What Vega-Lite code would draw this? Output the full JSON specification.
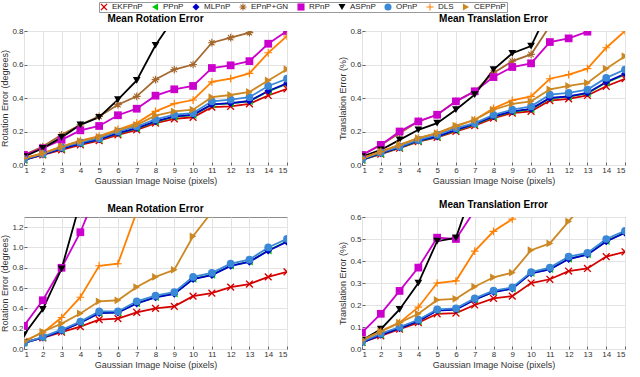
{
"$schema":"https://vega.github.io/schema/vega-lite/v6.json",
"background":"white",
"padding":{"left":0,"top":1,"right":2,"bottom":1},
"config":{"font":"Liberation Sans","view":{"stroke":"#8c8c8c","strokeWidth":1},
"axis":{"domain":false,"gridColor":"#e3e3e3","gridWidth":1,"labelFontSize":8,"labelColor":"#333333","titleFontSize":9,"titleFontWeight":"normal","titleColor":"#333333","tickColor":"#666666","tickSize":-3,"labelPadding":4,"titlePadding":2},
"legend":{"symbolSize":50,"columnPadding":8,"labelOffset":4,"padding":1,"strokeColor":"#9a9a9a","labelFontSize":8,"labelColor":"#222222","symbolStrokeWidth":0},
"title":{"fontSize":10,"fontWeight":"bold","color":"#000000","offset":3}},
"data":{"values":[
{"p":"a","m":"EKFPnP","x":1,"y":0.03},{"p":"a","m":"EKFPnP","x":2,"y":0.06},{"p":"a","m":"EKFPnP","x":3,"y":0.09},{"p":"a","m":"EKFPnP","x":4,"y":0.12},{"p":"a","m":"EKFPnP","x":5,"y":0.145},{"p":"a","m":"EKFPnP","x":6,"y":0.18},{"p":"a","m":"EKFPnP","x":7,"y":0.21},{"p":"a","m":"EKFPnP","x":8,"y":0.25},{"p":"a","m":"EKFPnP","x":9,"y":0.275},{"p":"a","m":"EKFPnP","x":10,"y":0.285},{"p":"a","m":"EKFPnP","x":11,"y":0.345},{"p":"a","m":"EKFPnP","x":12,"y":0.35},{"p":"a","m":"EKFPnP","x":13,"y":0.365},{"p":"a","m":"EKFPnP","x":14,"y":0.415},{"p":"a","m":"EKFPnP","x":15,"y":0.455},
{"p":"a","m":"PPnP","x":1,"y":0.03},{"p":"a","m":"PPnP","x":2,"y":0.063},{"p":"a","m":"PPnP","x":3,"y":0.097},{"p":"a","m":"PPnP","x":4,"y":0.127},{"p":"a","m":"PPnP","x":5,"y":0.152},{"p":"a","m":"PPnP","x":6,"y":0.188},{"p":"a","m":"PPnP","x":7,"y":0.218},{"p":"a","m":"PPnP","x":8,"y":0.258},{"p":"a","m":"PPnP","x":9,"y":0.287},{"p":"a","m":"PPnP","x":10,"y":0.298},{"p":"a","m":"PPnP","x":11,"y":0.36},{"p":"a","m":"PPnP","x":12,"y":0.368},{"p":"a","m":"PPnP","x":13,"y":0.38},{"p":"a","m":"PPnP","x":14,"y":0.44},{"p":"a","m":"PPnP","x":15,"y":0.485},
{"p":"a","m":"MLPnP","x":1,"y":0.03},{"p":"a","m":"MLPnP","x":2,"y":0.062},{"p":"a","m":"MLPnP","x":3,"y":0.098},{"p":"a","m":"MLPnP","x":4,"y":0.128},{"p":"a","m":"MLPnP","x":5,"y":0.153},{"p":"a","m":"MLPnP","x":6,"y":0.19},{"p":"a","m":"MLPnP","x":7,"y":0.22},{"p":"a","m":"MLPnP","x":8,"y":0.26},{"p":"a","m":"MLPnP","x":9,"y":0.29},{"p":"a","m":"MLPnP","x":10,"y":0.3},{"p":"a","m":"MLPnP","x":11,"y":0.362},{"p":"a","m":"MLPnP","x":12,"y":0.37},{"p":"a","m":"MLPnP","x":13,"y":0.382},{"p":"a","m":"MLPnP","x":14,"y":0.442},{"p":"a","m":"MLPnP","x":15,"y":0.488},
{"p":"a","m":"EPnP+GN","x":1,"y":0.06},{"p":"a","m":"EPnP+GN","x":2,"y":0.11},{"p":"a","m":"EPnP+GN","x":3,"y":0.18},{"p":"a","m":"EPnP+GN","x":4,"y":0.24},{"p":"a","m":"EPnP+GN","x":5,"y":0.29},{"p":"a","m":"EPnP+GN","x":6,"y":0.36},{"p":"a","m":"EPnP+GN","x":7,"y":0.41},{"p":"a","m":"EPnP+GN","x":8,"y":0.51},{"p":"a","m":"EPnP+GN","x":9,"y":0.57},{"p":"a","m":"EPnP+GN","x":10,"y":0.6},{"p":"a","m":"EPnP+GN","x":11,"y":0.73},{"p":"a","m":"EPnP+GN","x":12,"y":0.76},{"p":"a","m":"EPnP+GN","x":13,"y":0.79},{"p":"a","m":"EPnP+GN","x":14,"y":0.88},{"p":"a","m":"EPnP+GN","x":15,"y":0.95},
{"p":"a","m":"RPnP","x":1,"y":0.06},{"p":"a","m":"RPnP","x":2,"y":0.1},{"p":"a","m":"RPnP","x":3,"y":0.15},{"p":"a","m":"RPnP","x":4,"y":0.207},{"p":"a","m":"RPnP","x":5,"y":0.233},{"p":"a","m":"RPnP","x":6,"y":0.297},{"p":"a","m":"RPnP","x":7,"y":0.336},{"p":"a","m":"RPnP","x":8,"y":0.414},{"p":"a","m":"RPnP","x":9,"y":0.452},{"p":"a","m":"RPnP","x":10,"y":0.472},{"p":"a","m":"RPnP","x":11,"y":0.579},{"p":"a","m":"RPnP","x":12,"y":0.595},{"p":"a","m":"RPnP","x":13,"y":0.62},{"p":"a","m":"RPnP","x":14,"y":0.724},{"p":"a","m":"RPnP","x":15,"y":0.8},
{"p":"a","m":"ASPnP","x":1,"y":0.05},{"p":"a","m":"ASPnP","x":2,"y":0.1},{"p":"a","m":"ASPnP","x":3,"y":0.165},{"p":"a","m":"ASPnP","x":4,"y":0.24},{"p":"a","m":"ASPnP","x":5,"y":0.285},{"p":"a","m":"ASPnP","x":6,"y":0.39},{"p":"a","m":"ASPnP","x":7,"y":0.505},{"p":"a","m":"ASPnP","x":8,"y":0.715},{"p":"a","m":"ASPnP","x":9,"y":0.88},{"p":"a","m":"ASPnP","x":10,"y":1.0},{"p":"a","m":"ASPnP","x":11,"y":1.1},{"p":"a","m":"ASPnP","x":12,"y":1.2},{"p":"a","m":"ASPnP","x":13,"y":1.3},{"p":"a","m":"ASPnP","x":14,"y":1.4},{"p":"a","m":"ASPnP","x":15,"y":1.5},
{"p":"a","m":"OPnP","x":1,"y":0.035},{"p":"a","m":"OPnP","x":2,"y":0.067},{"p":"a","m":"OPnP","x":3,"y":0.105},{"p":"a","m":"OPnP","x":4,"y":0.135},{"p":"a","m":"OPnP","x":5,"y":0.16},{"p":"a","m":"OPnP","x":6,"y":0.2},{"p":"a","m":"OPnP","x":7,"y":0.23},{"p":"a","m":"OPnP","x":8,"y":0.272},{"p":"a","m":"OPnP","x":9,"y":0.3},{"p":"a","m":"OPnP","x":10,"y":0.31},{"p":"a","m":"OPnP","x":11,"y":0.38},{"p":"a","m":"OPnP","x":12,"y":0.39},{"p":"a","m":"OPnP","x":13,"y":0.405},{"p":"a","m":"OPnP","x":14,"y":0.472},{"p":"a","m":"OPnP","x":15,"y":0.515},
{"p":"a","m":"DLS","x":1,"y":0.04},{"p":"a","m":"DLS","x":2,"y":0.07},{"p":"a","m":"DLS","x":3,"y":0.11},{"p":"a","m":"DLS","x":4,"y":0.145},{"p":"a","m":"DLS","x":5,"y":0.172},{"p":"a","m":"DLS","x":6,"y":0.212},{"p":"a","m":"DLS","x":7,"y":0.25},{"p":"a","m":"DLS","x":8,"y":0.32},{"p":"a","m":"DLS","x":9,"y":0.366},{"p":"a","m":"DLS","x":10,"y":0.388},{"p":"a","m":"DLS","x":11,"y":0.496},{"p":"a","m":"DLS","x":12,"y":0.515},{"p":"a","m":"DLS","x":13,"y":0.547},{"p":"a","m":"DLS","x":14,"y":0.67},{"p":"a","m":"DLS","x":15,"y":0.77},
{"p":"a","m":"CEPPnP","x":1,"y":0.04},{"p":"a","m":"CEPPnP","x":2,"y":0.07},{"p":"a","m":"CEPPnP","x":3,"y":0.11},{"p":"a","m":"CEPPnP","x":4,"y":0.142},{"p":"a","m":"CEPPnP","x":5,"y":0.168},{"p":"a","m":"CEPPnP","x":6,"y":0.208},{"p":"a","m":"CEPPnP","x":7,"y":0.24},{"p":"a","m":"CEPPnP","x":8,"y":0.295},{"p":"a","m":"CEPPnP","x":9,"y":0.32},{"p":"a","m":"CEPPnP","x":10,"y":0.33},{"p":"a","m":"CEPPnP","x":11,"y":0.405},{"p":"a","m":"CEPPnP","x":12,"y":0.418},{"p":"a","m":"CEPPnP","x":13,"y":0.436},{"p":"a","m":"CEPPnP","x":14,"y":0.505},{"p":"a","m":"CEPPnP","x":15,"y":0.572},
{"p":"b","m":"EKFPnP","x":1,"y":0.03},{"p":"b","m":"EKFPnP","x":2,"y":0.065},{"p":"b","m":"EKFPnP","x":3,"y":0.1},{"p":"b","m":"EKFPnP","x":4,"y":0.14},{"p":"b","m":"EKFPnP","x":5,"y":0.165},{"p":"b","m":"EKFPnP","x":6,"y":0.2},{"p":"b","m":"EKFPnP","x":7,"y":0.235},{"p":"b","m":"EKFPnP","x":8,"y":0.28},{"p":"b","m":"EKFPnP","x":9,"y":0.31},{"p":"b","m":"EKFPnP","x":10,"y":0.32},{"p":"b","m":"EKFPnP","x":11,"y":0.385},{"p":"b","m":"EKFPnP","x":12,"y":0.395},{"p":"b","m":"EKFPnP","x":13,"y":0.415},{"p":"b","m":"EKFPnP","x":14,"y":0.47},{"p":"b","m":"EKFPnP","x":15,"y":0.515},
{"p":"b","m":"PPnP","x":1,"y":0.03},{"p":"b","m":"PPnP","x":2,"y":0.068},{"p":"b","m":"PPnP","x":3,"y":0.103},{"p":"b","m":"PPnP","x":4,"y":0.143},{"p":"b","m":"PPnP","x":5,"y":0.168},{"p":"b","m":"PPnP","x":6,"y":0.207},{"p":"b","m":"PPnP","x":7,"y":0.242},{"p":"b","m":"PPnP","x":8,"y":0.287},{"p":"b","m":"PPnP","x":9,"y":0.318},{"p":"b","m":"PPnP","x":10,"y":0.332},{"p":"b","m":"PPnP","x":11,"y":0.398},{"p":"b","m":"PPnP","x":12,"y":0.408},{"p":"b","m":"PPnP","x":13,"y":0.428},{"p":"b","m":"PPnP","x":14,"y":0.492},{"p":"b","m":"PPnP","x":15,"y":0.54},
{"p":"b","m":"MLPnP","x":1,"y":0.03},{"p":"b","m":"MLPnP","x":2,"y":0.07},{"p":"b","m":"MLPnP","x":3,"y":0.105},{"p":"b","m":"MLPnP","x":4,"y":0.145},{"p":"b","m":"MLPnP","x":5,"y":0.17},{"p":"b","m":"MLPnP","x":6,"y":0.21},{"p":"b","m":"MLPnP","x":7,"y":0.245},{"p":"b","m":"MLPnP","x":8,"y":0.29},{"p":"b","m":"MLPnP","x":9,"y":0.32},{"p":"b","m":"MLPnP","x":10,"y":0.335},{"p":"b","m":"MLPnP","x":11,"y":0.4},{"p":"b","m":"MLPnP","x":12,"y":0.41},{"p":"b","m":"MLPnP","x":13,"y":0.43},{"p":"b","m":"MLPnP","x":14,"y":0.495},{"p":"b","m":"MLPnP","x":15,"y":0.545},
{"p":"b","m":"EPnP+GN","x":1,"y":0.06},{"p":"b","m":"EPnP+GN","x":2,"y":0.12},{"p":"b","m":"EPnP+GN","x":3,"y":0.19},{"p":"b","m":"EPnP+GN","x":4,"y":0.26},{"p":"b","m":"EPnP+GN","x":5,"y":0.3},{"p":"b","m":"EPnP+GN","x":6,"y":0.38},{"p":"b","m":"EPnP+GN","x":7,"y":0.44},{"p":"b","m":"EPnP+GN","x":8,"y":0.55},{"p":"b","m":"EPnP+GN","x":9,"y":0.62},{"p":"b","m":"EPnP+GN","x":10,"y":0.66},{"p":"b","m":"EPnP+GN","x":11,"y":0.83},{"p":"b","m":"EPnP+GN","x":12,"y":0.9},{"p":"b","m":"EPnP+GN","x":13,"y":0.95},{"p":"b","m":"EPnP+GN","x":14,"y":1.0},{"p":"b","m":"EPnP+GN","x":15,"y":1.05},
{"p":"b","m":"RPnP","x":1,"y":0.06},{"p":"b","m":"RPnP","x":2,"y":0.12},{"p":"b","m":"RPnP","x":3,"y":0.2},{"p":"b","m":"RPnP","x":4,"y":0.26},{"p":"b","m":"RPnP","x":5,"y":0.3},{"p":"b","m":"RPnP","x":6,"y":0.38},{"p":"b","m":"RPnP","x":7,"y":0.44},{"p":"b","m":"RPnP","x":8,"y":0.525},{"p":"b","m":"RPnP","x":9,"y":0.585},{"p":"b","m":"RPnP","x":10,"y":0.607},{"p":"b","m":"RPnP","x":11,"y":0.734},{"p":"b","m":"RPnP","x":12,"y":0.756},{"p":"b","m":"RPnP","x":13,"y":0.796},{"p":"b","m":"RPnP","x":14,"y":0.9},{"p":"b","m":"RPnP","x":15,"y":0.95},
{"p":"b","m":"ASPnP","x":1,"y":0.05},{"p":"b","m":"ASPnP","x":2,"y":0.09},{"p":"b","m":"ASPnP","x":3,"y":0.15},{"p":"b","m":"ASPnP","x":4,"y":0.21},{"p":"b","m":"ASPnP","x":5,"y":0.25},{"p":"b","m":"ASPnP","x":6,"y":0.33},{"p":"b","m":"ASPnP","x":7,"y":0.42},{"p":"b","m":"ASPnP","x":8,"y":0.57},{"p":"b","m":"ASPnP","x":9,"y":0.667},{"p":"b","m":"ASPnP","x":10,"y":0.71},{"p":"b","m":"ASPnP","x":11,"y":0.94},{"p":"b","m":"ASPnP","x":12,"y":1.0},{"p":"b","m":"ASPnP","x":13,"y":1.05},{"p":"b","m":"ASPnP","x":14,"y":1.1},{"p":"b","m":"ASPnP","x":15,"y":1.15},
{"p":"b","m":"OPnP","x":1,"y":0.035},{"p":"b","m":"OPnP","x":2,"y":0.075},{"p":"b","m":"OPnP","x":3,"y":0.11},{"p":"b","m":"OPnP","x":4,"y":0.15},{"p":"b","m":"OPnP","x":5,"y":0.18},{"p":"b","m":"OPnP","x":6,"y":0.22},{"p":"b","m":"OPnP","x":7,"y":0.25},{"p":"b","m":"OPnP","x":8,"y":0.3},{"p":"b","m":"OPnP","x":9,"y":0.33},{"p":"b","m":"OPnP","x":10,"y":0.35},{"p":"b","m":"OPnP","x":11,"y":0.42},{"p":"b","m":"OPnP","x":12,"y":0.43},{"p":"b","m":"OPnP","x":13,"y":0.45},{"p":"b","m":"OPnP","x":14,"y":0.52},{"p":"b","m":"OPnP","x":15,"y":0.57},
{"p":"b","m":"DLS","x":1,"y":0.04},{"p":"b","m":"DLS","x":2,"y":0.08},{"p":"b","m":"DLS","x":3,"y":0.12},{"p":"b","m":"DLS","x":4,"y":0.16},{"p":"b","m":"DLS","x":5,"y":0.19},{"p":"b","m":"DLS","x":6,"y":0.23},{"p":"b","m":"DLS","x":7,"y":0.27},{"p":"b","m":"DLS","x":8,"y":0.338},{"p":"b","m":"DLS","x":9,"y":0.386},{"p":"b","m":"DLS","x":10,"y":0.41},{"p":"b","m":"DLS","x":11,"y":0.515},{"p":"b","m":"DLS","x":12,"y":0.54},{"p":"b","m":"DLS","x":13,"y":0.575},{"p":"b","m":"DLS","x":14,"y":0.7},{"p":"b","m":"DLS","x":15,"y":0.8},
{"p":"b","m":"CEPPnP","x":1,"y":0.04},{"p":"b","m":"CEPPnP","x":2,"y":0.08},{"p":"b","m":"CEPPnP","x":3,"y":0.12},{"p":"b","m":"CEPPnP","x":4,"y":0.16},{"p":"b","m":"CEPPnP","x":5,"y":0.19},{"p":"b","m":"CEPPnP","x":6,"y":0.235},{"p":"b","m":"CEPPnP","x":7,"y":0.27},{"p":"b","m":"CEPPnP","x":8,"y":0.33},{"p":"b","m":"CEPPnP","x":9,"y":0.365},{"p":"b","m":"CEPPnP","x":10,"y":0.38},{"p":"b","m":"CEPPnP","x":11,"y":0.452},{"p":"b","m":"CEPPnP","x":12,"y":0.472},{"p":"b","m":"CEPPnP","x":13,"y":0.49},{"p":"b","m":"CEPPnP","x":14,"y":0.575},{"p":"b","m":"CEPPnP","x":15,"y":0.65},
{"p":"c","m":"EKFPnP","x":1,"y":0.07},{"p":"c","m":"EKFPnP","x":2,"y":0.11},{"p":"c","m":"EKFPnP","x":3,"y":0.166},{"p":"c","m":"EKFPnP","x":4,"y":0.22},{"p":"c","m":"EKFPnP","x":5,"y":0.29},{"p":"c","m":"EKFPnP","x":6,"y":0.3},{"p":"c","m":"EKFPnP","x":7,"y":0.36},{"p":"c","m":"EKFPnP","x":8,"y":0.4},{"p":"c","m":"EKFPnP","x":9,"y":0.42},{"p":"c","m":"EKFPnP","x":10,"y":0.52},{"p":"c","m":"EKFPnP","x":11,"y":0.55},{"p":"c","m":"EKFPnP","x":12,"y":0.61},{"p":"c","m":"EKFPnP","x":13,"y":0.64},{"p":"c","m":"EKFPnP","x":14,"y":0.71},{"p":"c","m":"EKFPnP","x":15,"y":0.76},
{"p":"c","m":"PPnP","x":1,"y":0.06},{"p":"c","m":"PPnP","x":2,"y":0.115},{"p":"c","m":"PPnP","x":3,"y":0.18},{"p":"c","m":"PPnP","x":4,"y":0.26},{"p":"c","m":"PPnP","x":5,"y":0.355},{"p":"c","m":"PPnP","x":6,"y":0.36},{"p":"c","m":"PPnP","x":7,"y":0.45},{"p":"c","m":"PPnP","x":8,"y":0.51},{"p":"c","m":"PPnP","x":9,"y":0.545},{"p":"c","m":"PPnP","x":10,"y":0.69},{"p":"c","m":"PPnP","x":11,"y":0.73},{"p":"c","m":"PPnP","x":12,"y":0.82},{"p":"c","m":"PPnP","x":13,"y":0.86},{"p":"c","m":"PPnP","x":14,"y":0.97},{"p":"c","m":"PPnP","x":15,"y":1.06},
{"p":"c","m":"MLPnP","x":1,"y":0.058},{"p":"c","m":"MLPnP","x":2,"y":0.113},{"p":"c","m":"MLPnP","x":3,"y":0.178},{"p":"c","m":"MLPnP","x":4,"y":0.258},{"p":"c","m":"MLPnP","x":5,"y":0.353},{"p":"c","m":"MLPnP","x":6,"y":0.358},{"p":"c","m":"MLPnP","x":7,"y":0.448},{"p":"c","m":"MLPnP","x":8,"y":0.508},{"p":"c","m":"MLPnP","x":9,"y":0.543},{"p":"c","m":"MLPnP","x":10,"y":0.688},{"p":"c","m":"MLPnP","x":11,"y":0.728},{"p":"c","m":"MLPnP","x":12,"y":0.818},{"p":"c","m":"MLPnP","x":13,"y":0.858},{"p":"c","m":"MLPnP","x":14,"y":0.968},{"p":"c","m":"MLPnP","x":15,"y":1.055},
{"p":"c","m":"EPnP+GN","x":1,"y":2.0},{"p":"c","m":"EPnP+GN","x":2,"y":2.2},{"p":"c","m":"EPnP+GN","x":3,"y":2.4},{"p":"c","m":"EPnP+GN","x":4,"y":2.6},{"p":"c","m":"EPnP+GN","x":5,"y":2.8},{"p":"c","m":"EPnP+GN","x":6,"y":3.0},{"p":"c","m":"EPnP+GN","x":7,"y":3.2},{"p":"c","m":"EPnP+GN","x":8,"y":3.4},{"p":"c","m":"EPnP+GN","x":9,"y":3.6},{"p":"c","m":"EPnP+GN","x":10,"y":3.8},{"p":"c","m":"EPnP+GN","x":11,"y":4.0},{"p":"c","m":"EPnP+GN","x":12,"y":4.2},{"p":"c","m":"EPnP+GN","x":13,"y":4.4},{"p":"c","m":"EPnP+GN","x":14,"y":4.6},{"p":"c","m":"EPnP+GN","x":15,"y":4.8},
{"p":"c","m":"RPnP","x":1,"y":0.228},{"p":"c","m":"RPnP","x":2,"y":0.48},{"p":"c","m":"RPnP","x":3,"y":0.8},{"p":"c","m":"RPnP","x":4,"y":1.15},{"p":"c","m":"RPnP","x":5,"y":1.6},{"p":"c","m":"RPnP","x":6,"y":2.0},{"p":"c","m":"RPnP","x":7,"y":2.4},{"p":"c","m":"RPnP","x":8,"y":2.8},{"p":"c","m":"RPnP","x":9,"y":3.2},{"p":"c","m":"RPnP","x":10,"y":3.6},{"p":"c","m":"RPnP","x":11,"y":4.0},{"p":"c","m":"RPnP","x":12,"y":4.4},{"p":"c","m":"RPnP","x":13,"y":4.8},{"p":"c","m":"RPnP","x":14,"y":5.2},{"p":"c","m":"RPnP","x":15,"y":5.6},
{"p":"c","m":"ASPnP","x":1,"y":0.14},{"p":"c","m":"ASPnP","x":2,"y":0.39},{"p":"c","m":"ASPnP","x":3,"y":0.79},{"p":"c","m":"ASPnP","x":4,"y":1.45},{"p":"c","m":"ASPnP","x":5,"y":2.0},{"p":"c","m":"ASPnP","x":6,"y":2.5},{"p":"c","m":"ASPnP","x":7,"y":3.0},{"p":"c","m":"ASPnP","x":8,"y":3.5},{"p":"c","m":"ASPnP","x":9,"y":4.0},{"p":"c","m":"ASPnP","x":10,"y":4.5},{"p":"c","m":"ASPnP","x":11,"y":5.0},{"p":"c","m":"ASPnP","x":12,"y":5.5},{"p":"c","m":"ASPnP","x":13,"y":6.0},{"p":"c","m":"ASPnP","x":14,"y":6.5},{"p":"c","m":"ASPnP","x":15,"y":7.0},
{"p":"c","m":"OPnP","x":1,"y":0.06},{"p":"c","m":"OPnP","x":2,"y":0.12},{"p":"c","m":"OPnP","x":3,"y":0.19},{"p":"c","m":"OPnP","x":4,"y":0.27},{"p":"c","m":"OPnP","x":5,"y":0.37},{"p":"c","m":"OPnP","x":6,"y":0.37},{"p":"c","m":"OPnP","x":7,"y":0.47},{"p":"c","m":"OPnP","x":8,"y":0.525},{"p":"c","m":"OPnP","x":9,"y":0.56},{"p":"c","m":"OPnP","x":10,"y":0.71},{"p":"c","m":"OPnP","x":11,"y":0.75},{"p":"c","m":"OPnP","x":12,"y":0.84},{"p":"c","m":"OPnP","x":13,"y":0.88},{"p":"c","m":"OPnP","x":14,"y":1.0},{"p":"c","m":"OPnP","x":15,"y":1.085},
{"p":"c","m":"DLS","x":1,"y":0.08},{"p":"c","m":"DLS","x":2,"y":0.16},{"p":"c","m":"DLS","x":3,"y":0.31},{"p":"c","m":"DLS","x":4,"y":0.51},{"p":"c","m":"DLS","x":5,"y":0.82},{"p":"c","m":"DLS","x":6,"y":0.84},{"p":"c","m":"DLS","x":7,"y":1.35},{"p":"c","m":"DLS","x":8,"y":1.7},{"p":"c","m":"DLS","x":9,"y":2.0},{"p":"c","m":"DLS","x":10,"y":2.3},{"p":"c","m":"DLS","x":11,"y":2.6},{"p":"c","m":"DLS","x":12,"y":2.9},{"p":"c","m":"DLS","x":13,"y":3.2},{"p":"c","m":"DLS","x":14,"y":3.5},{"p":"c","m":"DLS","x":15,"y":3.8},
{"p":"c","m":"CEPPnP","x":1,"y":0.07},{"p":"c","m":"CEPPnP","x":2,"y":0.17},{"p":"c","m":"CEPPnP","x":3,"y":0.25},{"p":"c","m":"CEPPnP","x":4,"y":0.35},{"p":"c","m":"CEPPnP","x":5,"y":0.47},{"p":"c","m":"CEPPnP","x":6,"y":0.48},{"p":"c","m":"CEPPnP","x":7,"y":0.61},{"p":"c","m":"CEPPnP","x":8,"y":0.71},{"p":"c","m":"CEPPnP","x":9,"y":0.78},{"p":"c","m":"CEPPnP","x":10,"y":1.11},{"p":"c","m":"CEPPnP","x":11,"y":1.35},{"p":"c","m":"CEPPnP","x":12,"y":1.6},{"p":"c","m":"CEPPnP","x":13,"y":1.8},{"p":"c","m":"CEPPnP","x":14,"y":2.0},{"p":"c","m":"CEPPnP","x":15,"y":2.2},
{"p":"d","m":"EKFPnP","x":1,"y":0.03},{"p":"d","m":"EKFPnP","x":2,"y":0.06},{"p":"d","m":"EKFPnP","x":3,"y":0.09},{"p":"d","m":"EKFPnP","x":4,"y":0.12},{"p":"d","m":"EKFPnP","x":5,"y":0.16},{"p":"d","m":"EKFPnP","x":6,"y":0.163},{"p":"d","m":"EKFPnP","x":7,"y":0.2},{"p":"d","m":"EKFPnP","x":8,"y":0.23},{"p":"d","m":"EKFPnP","x":9,"y":0.24},{"p":"d","m":"EKFPnP","x":10,"y":0.3},{"p":"d","m":"EKFPnP","x":11,"y":0.317},{"p":"d","m":"EKFPnP","x":12,"y":0.354},{"p":"d","m":"EKFPnP","x":13,"y":0.366},{"p":"d","m":"EKFPnP","x":14,"y":0.42},{"p":"d","m":"EKFPnP","x":15,"y":0.442},
{"p":"d","m":"PPnP","x":1,"y":0.03},{"p":"d","m":"PPnP","x":2,"y":0.065},{"p":"d","m":"PPnP","x":3,"y":0.095},{"p":"d","m":"PPnP","x":4,"y":0.127},{"p":"d","m":"PPnP","x":5,"y":0.176},{"p":"d","m":"PPnP","x":6,"y":0.18},{"p":"d","m":"PPnP","x":7,"y":0.225},{"p":"d","m":"PPnP","x":8,"y":0.26},{"p":"d","m":"PPnP","x":9,"y":0.275},{"p":"d","m":"PPnP","x":10,"y":0.345},{"p":"d","m":"PPnP","x":11,"y":0.363},{"p":"d","m":"PPnP","x":12,"y":0.41},{"p":"d","m":"PPnP","x":13,"y":0.43},{"p":"d","m":"PPnP","x":14,"y":0.49},{"p":"d","m":"PPnP","x":15,"y":0.53},
{"p":"d","m":"MLPnP","x":1,"y":0.029},{"p":"d","m":"MLPnP","x":2,"y":0.064},{"p":"d","m":"MLPnP","x":3,"y":0.094},{"p":"d","m":"MLPnP","x":4,"y":0.126},{"p":"d","m":"MLPnP","x":5,"y":0.175},{"p":"d","m":"MLPnP","x":6,"y":0.179},{"p":"d","m":"MLPnP","x":7,"y":0.224},{"p":"d","m":"MLPnP","x":8,"y":0.259},{"p":"d","m":"MLPnP","x":9,"y":0.274},{"p":"d","m":"MLPnP","x":10,"y":0.344},{"p":"d","m":"MLPnP","x":11,"y":0.362},{"p":"d","m":"MLPnP","x":12,"y":0.409},{"p":"d","m":"MLPnP","x":13,"y":0.429},{"p":"d","m":"MLPnP","x":14,"y":0.489},{"p":"d","m":"MLPnP","x":15,"y":0.528},
{"p":"d","m":"EPnP+GN","x":1,"y":1.0},{"p":"d","m":"EPnP+GN","x":2,"y":1.1},{"p":"d","m":"EPnP+GN","x":3,"y":1.2},{"p":"d","m":"EPnP+GN","x":4,"y":1.3},{"p":"d","m":"EPnP+GN","x":5,"y":1.4},{"p":"d","m":"EPnP+GN","x":6,"y":1.5},{"p":"d","m":"EPnP+GN","x":7,"y":1.6},{"p":"d","m":"EPnP+GN","x":8,"y":1.7},{"p":"d","m":"EPnP+GN","x":9,"y":1.8},{"p":"d","m":"EPnP+GN","x":10,"y":1.9},{"p":"d","m":"EPnP+GN","x":11,"y":2.0},{"p":"d","m":"EPnP+GN","x":12,"y":2.1},{"p":"d","m":"EPnP+GN","x":13,"y":2.2},{"p":"d","m":"EPnP+GN","x":14,"y":2.3},{"p":"d","m":"EPnP+GN","x":15,"y":2.4},
{"p":"d","m":"RPnP","x":1,"y":0.075},{"p":"d","m":"RPnP","x":2,"y":0.16},{"p":"d","m":"RPnP","x":3,"y":0.264},{"p":"d","m":"RPnP","x":4,"y":0.37},{"p":"d","m":"RPnP","x":5,"y":0.506},{"p":"d","m":"RPnP","x":6,"y":0.5},{"p":"d","m":"RPnP","x":7,"y":0.63},{"p":"d","m":"RPnP","x":8,"y":0.8},{"p":"d","m":"RPnP","x":9,"y":0.95},{"p":"d","m":"RPnP","x":10,"y":1.1},{"p":"d","m":"RPnP","x":11,"y":1.25},{"p":"d","m":"RPnP","x":12,"y":1.4},{"p":"d","m":"RPnP","x":13,"y":1.55},{"p":"d","m":"RPnP","x":14,"y":1.7},{"p":"d","m":"RPnP","x":15,"y":1.85},
{"p":"d","m":"ASPnP","x":1,"y":0.04},{"p":"d","m":"ASPnP","x":2,"y":0.09},{"p":"d","m":"ASPnP","x":3,"y":0.18},{"p":"d","m":"ASPnP","x":4,"y":0.3},{"p":"d","m":"ASPnP","x":5,"y":0.49},{"p":"d","m":"ASPnP","x":6,"y":0.505},{"p":"d","m":"ASPnP","x":7,"y":0.75},{"p":"d","m":"ASPnP","x":8,"y":0.9},{"p":"d","m":"ASPnP","x":9,"y":1.05},{"p":"d","m":"ASPnP","x":10,"y":1.2},{"p":"d","m":"ASPnP","x":11,"y":1.35},{"p":"d","m":"ASPnP","x":12,"y":1.5},{"p":"d","m":"ASPnP","x":13,"y":1.65},{"p":"d","m":"ASPnP","x":14,"y":1.8},{"p":"d","m":"ASPnP","x":15,"y":1.95},
{"p":"d","m":"OPnP","x":1,"y":0.033},{"p":"d","m":"OPnP","x":2,"y":0.07},{"p":"d","m":"OPnP","x":3,"y":0.1},{"p":"d","m":"OPnP","x":4,"y":0.133},{"p":"d","m":"OPnP","x":5,"y":0.18},{"p":"d","m":"OPnP","x":6,"y":0.185},{"p":"d","m":"OPnP","x":7,"y":0.23},{"p":"d","m":"OPnP","x":8,"y":0.265},{"p":"d","m":"OPnP","x":9,"y":0.28},{"p":"d","m":"OPnP","x":10,"y":0.35},{"p":"d","m":"OPnP","x":11,"y":0.37},{"p":"d","m":"OPnP","x":12,"y":0.42},{"p":"d","m":"OPnP","x":13,"y":0.437},{"p":"d","m":"OPnP","x":14,"y":0.5},{"p":"d","m":"OPnP","x":15,"y":0.537},
{"p":"d","m":"DLS","x":1,"y":0.04},{"p":"d","m":"DLS","x":2,"y":0.08},{"p":"d","m":"DLS","x":3,"y":0.12},{"p":"d","m":"DLS","x":4,"y":0.19},{"p":"d","m":"DLS","x":5,"y":0.3},{"p":"d","m":"DLS","x":6,"y":0.31},{"p":"d","m":"DLS","x":7,"y":0.445},{"p":"d","m":"DLS","x":8,"y":0.535},{"p":"d","m":"DLS","x":9,"y":0.59},{"p":"d","m":"DLS","x":10,"y":0.9},{"p":"d","m":"DLS","x":11,"y":1.0},{"p":"d","m":"DLS","x":12,"y":1.1},{"p":"d","m":"DLS","x":13,"y":1.2},{"p":"d","m":"DLS","x":14,"y":1.3},{"p":"d","m":"DLS","x":15,"y":1.4},
{"p":"d","m":"CEPPnP","x":1,"y":0.04},{"p":"d","m":"CEPPnP","x":2,"y":0.08},{"p":"d","m":"CEPPnP","x":3,"y":0.12},{"p":"d","m":"CEPPnP","x":4,"y":0.16},{"p":"d","m":"CEPPnP","x":5,"y":0.223},{"p":"d","m":"CEPPnP","x":6,"y":0.228},{"p":"d","m":"CEPPnP","x":7,"y":0.283},{"p":"d","m":"CEPPnP","x":8,"y":0.326},{"p":"d","m":"CEPPnP","x":9,"y":0.347},{"p":"d","m":"CEPPnP","x":10,"y":0.449},{"p":"d","m":"CEPPnP","x":11,"y":0.48},{"p":"d","m":"CEPPnP","x":12,"y":0.58},{"p":"d","m":"CEPPnP","x":13,"y":0.68},{"p":"d","m":"CEPPnP","x":14,"y":0.8},{"p":"d","m":"CEPPnP","x":15,"y":0.9}
]},
"spacing":13,
"vconcat":[
{"hconcat":[
{"width":263,"height":134,"title":"Mean Rotation Error","transform":[{"filter":{"field":"p","equal":"a"}}],
"encoding":{
"x":{"field":"x","type":"quantitative","scale":{"domain":[1,15],"nice":false},"axis":{"values":[1,2,3,4,5,6,7,8,9,10,11,12,13,14,15],"format":"d","title":"Gaussian Image Noise (pixels)"}},
"y":{"field":"y","type":"quantitative","scale":{"domain":[0,0.8],"nice":false},"axis":{"values":[0,0.2,0.4,0.6,0.8],"title":"Rotation Error (degrees)"}},
"color":{"field":"m","type":"nominal","scale":{"domain":["EKFPnP","PPnP","MLPnP","EPnP+GN","RPnP","ASPnP","OPnP","DLS","CEPPnP"],"range":["#d40000","#00c800","#0000cc","#a5692f","#cc00cc","#000000","#3a88d8","#ff8000","#cc8822"]},
"legend":{"title":null,"orient":"none","legendX":75,"legendY":-29,"direction":"horizontal","columns":9,"strokeColor":"#9a9a9a","fillColor":"white","padding":1,"labelFontSize":8,"labelColor":"#222222","symbolSize":50,"columnPadding":8,"labelOffset":4,"rowPadding":0,"symbolStrokeWidth":0}}},
"layer":[
{"mark":{"type":"line","strokeWidth":1.8,"clip":true}},
{"mark":{"type":"point","filled":true,"size":60,"opacity":1,"clip":true},"encoding":{"shape":{"field":"m","type":"nominal","scale":{"domain":["EKFPnP","PPnP","MLPnP","EPnP+GN","RPnP","ASPnP","OPnP","DLS","CEPPnP"],"range":["M0,-0.25L0.75,-1L1,-0.75L0.25,0L1,0.75L0.75,1L0,0.25L-0.75,1L-1,0.75L-0.25,0L-1,-0.75L-0.75,-1Z","triangle-left","diamond","M-1,-0.15L-0.15,-0.15L-0.15,-1L0.15,-1L0.15,-0.15L1,-0.15L1,0.15L0.15,0.15L0.15,1L-0.15,1L-0.15,0.15L-1,0.15ZM0,-0.2L0.6,-0.8L0.8,-0.6L0.2,0L0.8,0.6L0.6,0.8L0,0.2L-0.6,0.8L-0.8,0.6L-0.2,0L-0.8,-0.6L-0.6,-0.8Z","square","triangle-down","circle","M-1,-0.15L-0.15,-0.15L-0.15,-1L0.15,-1L0.15,-0.15L1,-0.15L1,0.15L0.15,0.15L0.15,1L-0.15,1L-0.15,0.15L-1,0.15Z","triangle-right"]},
"legend":{"title":null,"orient":"none","legendX":75,"legendY":-29,"direction":"horizontal","columns":9,"strokeColor":"#9a9a9a","fillColor":"white","padding":1,"labelFontSize":8,"labelColor":"#222222","symbolSize":50,"columnPadding":8,"labelOffset":4,"rowPadding":0,"symbolStrokeWidth":0}}}}
]},
{"width":263,"height":134,"title":"Mean Translation Error","transform":[{"filter":{"field":"p","equal":"b"}}],
"encoding":{
"x":{"field":"x","type":"quantitative","scale":{"domain":[1,15],"nice":false},"axis":{"values":[1,2,3,4,5,6,7,8,9,10,11,12,13,14,15],"format":"d","title":"Gaussian Image Noise (pixels)"}},
"y":{"field":"y","type":"quantitative","scale":{"domain":[0,0.8],"nice":false},"axis":{"values":[0,0.2,0.4,0.6,0.8],"title":"Translation Error (%)"}},
"color":{"field":"m","type":"nominal"}},
"layer":[
{"mark":{"type":"line","strokeWidth":1.8,"clip":true}},
{"mark":{"type":"point","filled":true,"size":60,"opacity":1,"clip":true},"encoding":{"shape":{"field":"m","type":"nominal"}}}
]}
],"spacing":50},
{"hconcat":[
{"width":263,"height":132,"title":"Mean Rotation Error","transform":[{"filter":{"field":"p","equal":"c"}}],
"encoding":{
"x":{"field":"x","type":"quantitative","scale":{"domain":[1,15],"nice":false},"axis":{"values":[1,2,3,4,5,6,7,8,9,10,11,12,13,14,15],"format":"d","title":"Gaussian Image Noise (pixels)"}},
"y":{"field":"y","type":"quantitative","scale":{"domain":[0,1.3],"nice":false},"axis":{"values":[0,0.2,0.4,0.6,0.8,1,1.2],"title":"Rotation Error (degrees)"}},
"color":{"field":"m","type":"nominal"}},
"layer":[
{"mark":{"type":"line","strokeWidth":1.8,"clip":true}},
{"mark":{"type":"point","filled":true,"size":60,"opacity":1,"clip":true},"encoding":{"shape":{"field":"m","type":"nominal"}}}
]},
{"width":263,"height":132,"title":"Mean Translation Error","transform":[{"filter":{"field":"p","equal":"d"}}],
"encoding":{
"x":{"field":"x","type":"quantitative","scale":{"domain":[1,15],"nice":false},"axis":{"values":[1,2,3,4,5,6,7,8,9,10,11,12,13,14,15],"format":"d","title":"Gaussian Image Noise (pixels)"}},
"y":{"field":"y","type":"quantitative","scale":{"domain":[0,0.6],"nice":false},"axis":{"values":[0,0.1,0.2,0.3,0.4,0.5,0.6],"title":"Translation Error (%)"}},
"color":{"field":"m","type":"nominal"}},
"layer":[
{"mark":{"type":"line","strokeWidth":1.8,"clip":true}},
{"mark":{"type":"point","filled":true,"size":60,"opacity":1,"clip":true},"encoding":{"shape":{"field":"m","type":"nominal"}}}
]}
],"spacing":50}
]
}
